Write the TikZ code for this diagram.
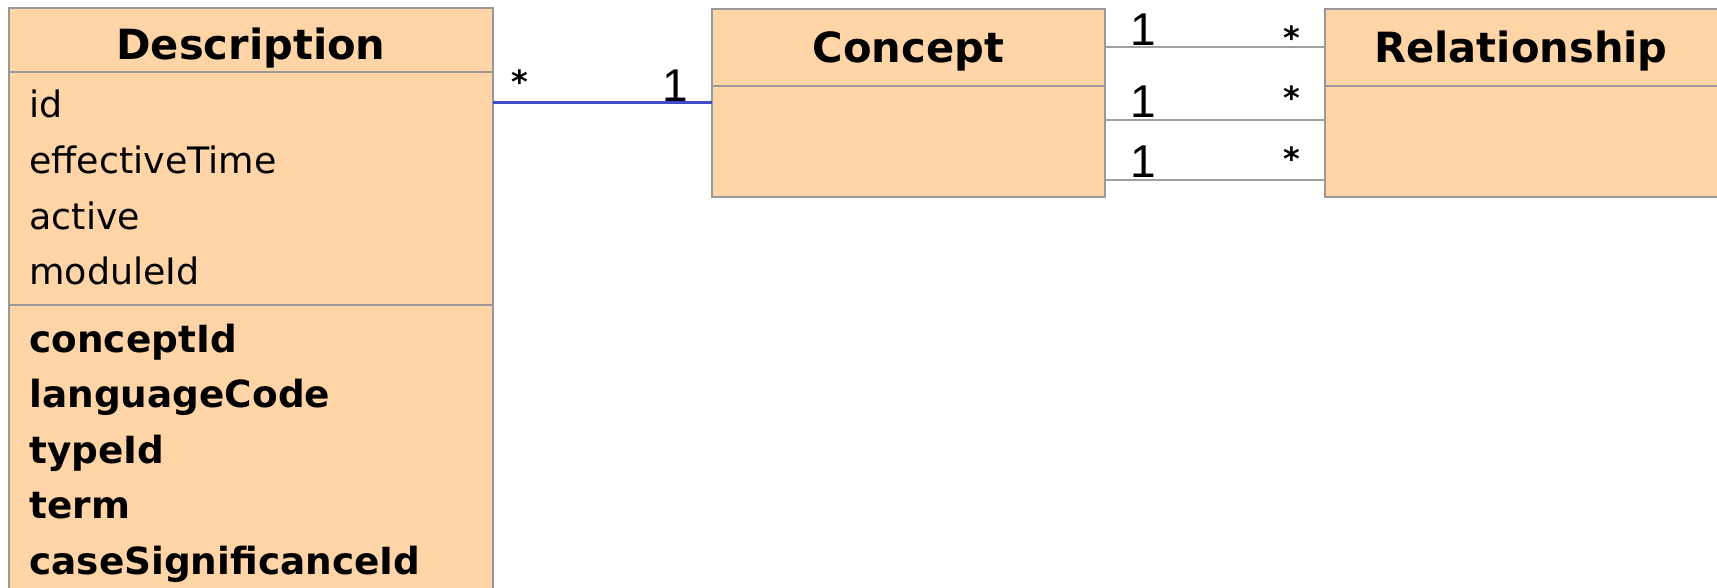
\documentclass[tikz,border=0pt]{standalone}
\usepackage{fontspec}
\setmainfont{DejaVu Sans}
\newfontfamily\multfam{Liberation Sans}
\usetikzlibrary{positioning}

\definecolor{boxfill}{HTML}{FFD5A8}
\definecolor{boxgray}{HTML}{999999}
\definecolor{assocblue}{HTML}{3F4BC8}
\definecolor{linkgray}{HTML}{A0A0A0}

\newcommand\classfont{\fontsize{20.8}{24}\selectfont\bfseries}
\newcommand\attrfont{\fontsize{18.2}{22}\selectfont}
\newcommand\keyfont{\fontsize{18.7}{22}\selectfont\bfseries}

\tikzset{
  classbox/.style={draw=boxgray, fill=boxfill, line width=1pt, anchor=north west, inner sep=0pt, outer sep=0pt},
  classname/.style={font=\classfont, anchor=base, inner sep=0pt},
  attr/.style={font=\attrfont, anchor=base west, inner sep=0pt},
  mult/.style={font={\multfam\fontsize{23}{26}\selectfont}, anchor=base, inner sep=0pt},
  many/.style={font={\fontsize{16}{20}\selectfont\bfseries}, anchor=base, inner sep=0pt},
  assoc/.style={draw=assocblue, line width=1.5pt},
  link/.style={draw=linkgray, line width=1pt}
}

\begin{document}
\begin{tikzpicture}[x=0.5pt, y=-0.5pt]
\useasboundingbox (0,0) rectangle (1717,588);

% Description
\node(dh)[classbox, minimum width=242pt, minimum height=32pt] at (9,8) {};
\node(da)[classbox, below=0pt of dh.south west, anchor=north west, minimum width=242pt, minimum height=116.5pt] {};
\node(dk)[classbox, below=0pt of da.south west, anchor=north west, minimum width=242pt, minimum height=145pt] {};
\node(dt)[classname] at (251,60) {Description};

\foreach \a [count=\i] in {id,effectiveTime,active,moduleId}
  \node(a\i)[attr] at (29,{62.4+55.6*\i}) {\a};
\foreach \a [count=\i] in {conceptId,languageCode,typeId,term,caseSignificanceId}
  \node(k\i)[attr, font=\keyfont] at (29,{296.5+55.5*\i}) {\a};

% Concept
\node(ch)[classbox, minimum width=196.5pt, minimum height=38.5pt] at (712,9) {};
\node(cb)[classbox, below=0pt of ch.south west, anchor=north west, minimum width=196.5pt, minimum height=55.5pt] {};
\node(ct)[classname] at (908.5,63) {Concept};

% Relationship
\node(rh)[classbox, minimum width=197pt, minimum height=38.5pt] at (1325,9) {};
\node(rb)[classbox, below=0pt of rh.south west, anchor=north west, minimum width=197pt, minimum height=55.5pt] {};
\node(rt)[classname] at (1521,63) {Relationship};

% associations
\coordinate(ce) at ([yshift=19.25pt]cb.west);
\draw[assoc] (da.east |- ce) -- (ce);

\coordinate(l2) at ([yshift=10.75pt]cb.east);
\coordinate(l3) at ([yshift=-19.25pt]cb.east);
\draw[link] (ch.east) -- (rh.west);
\draw[link] (l2) -- (rb.west |- l2);
\draw[link] (l3) -- (rb.west |- l3);

% multiplicities
\node(s1)[many] at (520,94) {*};
\node(m1)[mult] at (675,102) {1};
\node(m2)[mult] at (1143,46) {1};
\node(m3)[mult] at (1143,118) {1};
\node(m4)[mult] at (1143,178) {1};
\node(s2)[many] at (1292,50) {*};
\node(s3)[many] at (1292,110) {*};
\node(s4)[many] at (1292,171) {*};
\end{tikzpicture}
\end{document}
